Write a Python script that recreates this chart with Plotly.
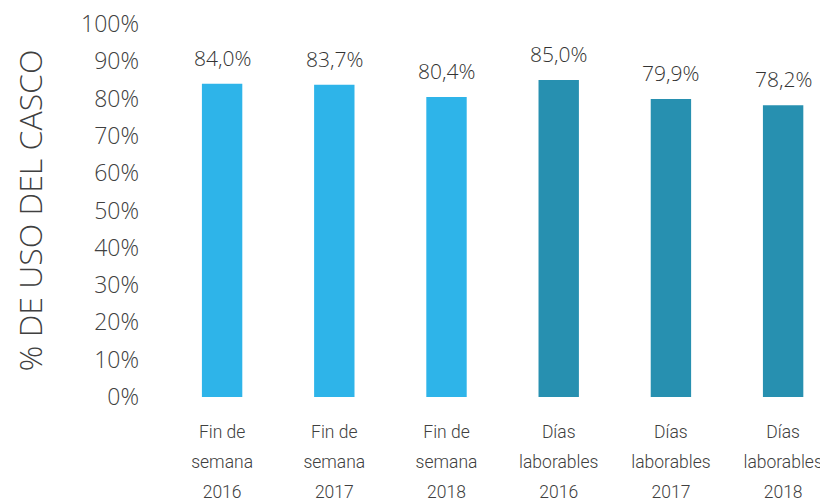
import plotly.graph_objects as go

cat_line1 = ["Fin de", "Fin de", "Fin de", "Días", "Días", "Días"]
cat_line2 = ["semana", "semana", "semana", "laborables", "laborables", "laborables"]
cat_line3 = ["2016", "2017", "2018", "2016", "2017", "2018"]
values = [84.0, 83.7, 80.4, 85.0, 79.9, 78.2]
colors = ["#2EB4E9", "#2EB4E9", "#2EB4E9", "#2790B0", "#2790B0", "#2790B0"]
y_ticks = [0, 10, 20, 30, 40, 50, 60, 70, 80, 90, 100]
y_tick_labels = [f"{v}%" for v in y_ticks]
labels = [f"{v:.1f}%".replace(".", ",") for v in values]

xpos = list(range(len(values)))

fig = go.Figure(go.Bar(
    x=xpos, y=values,
    marker=dict(color=colors, line=dict(width=0)),
    width=0.36,
    hoverinfo="skip",
))
# invisible helpers so the extra label axes render
for ax in ["x2", "x3"]:
    fig.add_trace(go.Scatter(x=xpos, y=values, xaxis=ax, yaxis="y", mode="markers",
                             marker=dict(opacity=0), hoverinfo="skip", showlegend=False))

for xi, v, lab in zip(xpos, values, labels):
    fig.add_annotation(x=xi, y=v, xref="x", yref="y", text=lab, showarrow=False,
                       yanchor="middle", yshift=26,
                       font=dict(family="Open Sans", size=21, color="#333333", weight=300))

fig.update_layout(
    width=820, height=493,
    margin=dict(l=158, r=0, t=16, b=104, autoexpand=False),
    plot_bgcolor="white", paper_bgcolor="white",
    showlegend=False,
    font=dict(family="Open Sans", color="#404040"),
)

xr = [-0.5, 5.4]
tickfont_x = dict(family="Roboto", size=17.5, color="#404040", weight=300)
common_x = dict(range=xr, automargin=False, tickmode="array", tickvals=xpos,
                tickfont=tickfont_x, showline=False, showgrid=False, zeroline=False, ticks="",
                ticklabeloverflow="allow")
fig.update_layout(
    xaxis=dict(ticktext=cat_line1, ticklabelstandoff=22, **common_x),
    xaxis2=dict(ticktext=cat_line2, ticklabelstandoff=52, overlaying="x", anchor="y", side="bottom", **common_x),
    xaxis3=dict(ticktext=cat_line3, ticklabelstandoff=82, overlaying="x", anchor="y", side="bottom", **common_x),
)
fig.update_yaxes(
    range=[0, 100], automargin=False, ticklabeloverflow="allow",
    tickmode="array", tickvals=y_ticks, ticktext=y_tick_labels,
    tickfont=dict(family="Open Sans", size=23, color="#404040", weight=300),
    showgrid=False, showline=False, zeroline=False, ticks="", ticklabelstandoff=26,
    title=dict(text="% DE USO DEL CASCO",
               font=dict(family="Open Sans", size=32, color="#404040", weight=300),
               standoff=28),
)
fig.write_html("out.html")
